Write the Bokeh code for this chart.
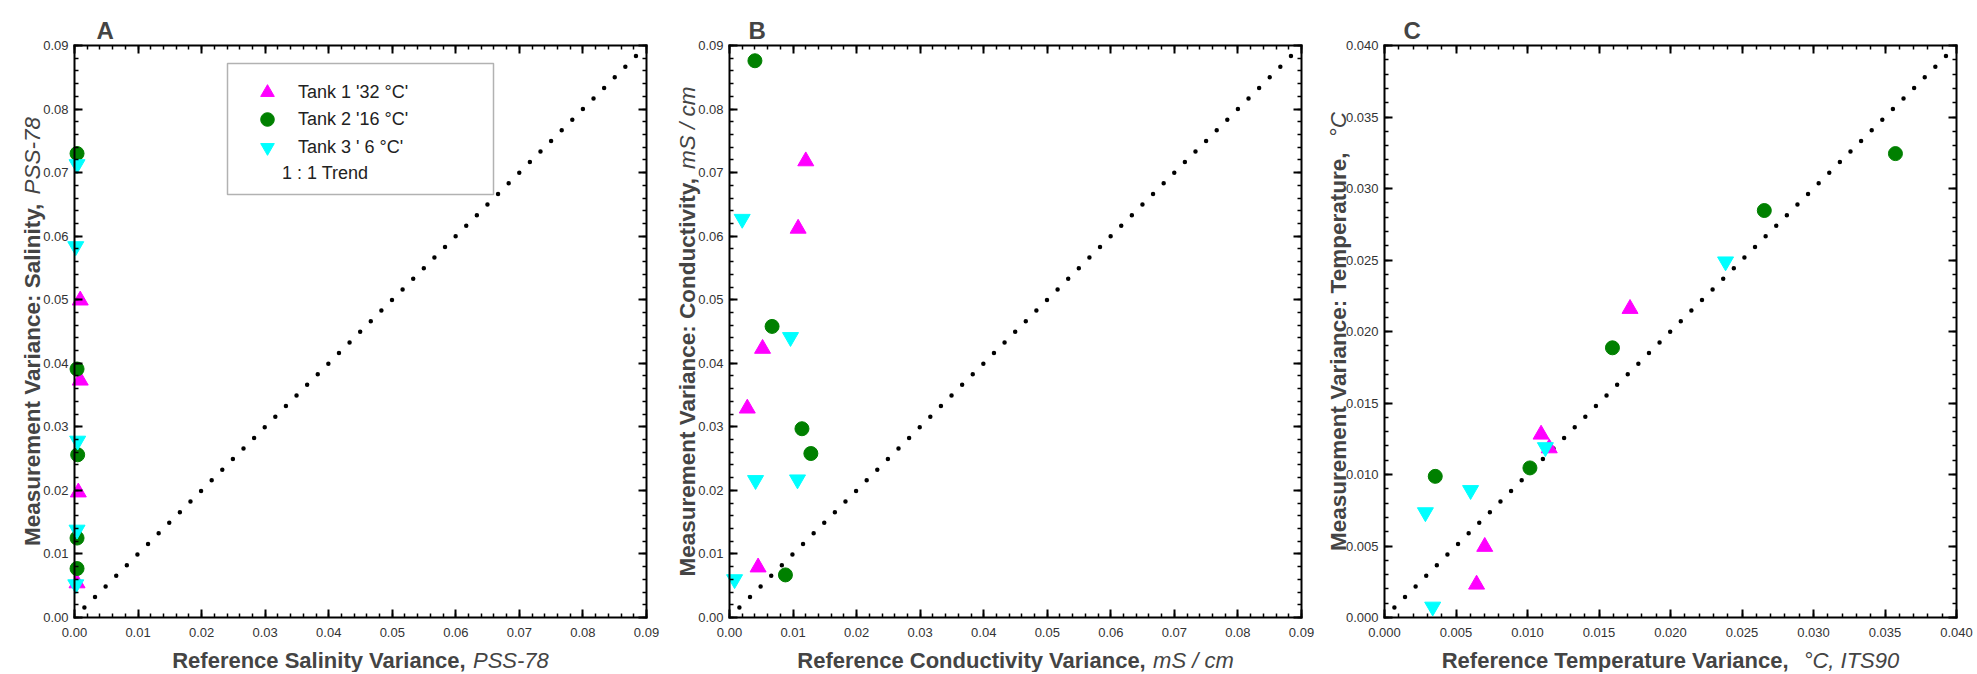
import math
from bokeh.plotting import figure
from bokeh.models import (Range1d, LinearAxis, SingleIntervalTicker, PrintfTickFormatter,
                          CustomJSTickFormatter, Label, Legend, LegendItem, BoxAnnotation)
from bokeh.layouts import row
from bokeh.embed import file_html
from bokeh.resources import INLINE

# ---------------- data ----------------
# Panel A: salinity
a_t1_x = [0.0009, 0.0009, 0.0006, 0.0004]
a_t1_y = [0.0499, 0.0373, 0.0197, 0.0054]
a_t2_x = [0.0004, 0.0004, 0.0005, 0.0004, 0.0004]
a_t2_y = [0.0730, 0.0391, 0.0256, 0.0125, 0.0077]
a_t3_x = [0.0004, 0.0002, 0.0005, 0.0004, 0.0002]
a_t3_y = [0.0713, 0.0584, 0.0278, 0.0138, 0.0052]
# Panel B: conductivity
b_t1_x = [0.0120, 0.0108, 0.0052, 0.0028, 0.0045]
b_t1_y = [0.0718, 0.0612, 0.0423, 0.0329, 0.0079]
b_t2_x = [0.0040, 0.0067, 0.0114, 0.0128, 0.0088]
b_t2_y = [0.0876, 0.0458, 0.0297, 0.0258, 0.0067]
b_t3_x = [0.0020, 0.0096, 0.0041, 0.0107, 0.0008]
b_t3_y = [0.0627, 0.0441, 0.0216, 0.0217, 0.0060]
# Panel C: temperature
c_t1_x = [0.01717, 0.01095, 0.01152, 0.00701, 0.00644]
c_t1_y = [0.02159, 0.01280, 0.01184, 0.00495, 0.00231]
c_t2_x = [0.03573, 0.02656, 0.01594, 0.01017, 0.00355]
c_t2_y = [0.03244, 0.02846, 0.01886, 0.01046, 0.00987]
c_t3_x = [0.02385, 0.01125, 0.00602, 0.00286, 0.00337]
c_t3_y = [0.02489, 0.01190, 0.00890, 0.00735, 0.00075]
# 1:1 trend lines
ab_trend = [0.0, 0.09]
c_trend = [0.0, 0.04]

legend_labels = ["Tank 1 '32 °C'", "Tank 2 '16 °C'", "Tank 3 ' 6 °C'", "1 : 1 Trend"]
panel_letters = ["A", "B", "C"]

# ---------------- styling ----------------
FONT = "Liberation Sans"
MAGENTA = "#FF00FF"
GREEN = "#008000"
CYAN = "#00FFFF"

BOLD_W = dict(zip("abcdefghijklmnopqrstuvwxyz",
                  [556, 611, 556, 611, 556, 333, 611, 611, 278, 278, 556, 278, 889, 611, 611, 611, 611,
                   389, 556, 333, 611, 556, 778, 556, 556, 500]))
BOLD_W.update(dict(zip("ABCDEFGHIJKLMNOPQRSTUVWXYZ",
                       [722, 722, 722, 722, 667, 611, 778, 722, 278, 556, 722, 611, 833, 722, 778, 667,
                        778, 722, 667, 611, 722, 667, 944, 667, 667, 611])))
BOLD_W.update({" ": 278, ",": 278, ":": 333, "-": 333, "/": 278, "°": 400})
ITAL_W = dict(zip("abcdefghijklmnopqrstuvwxyz",
                  [556, 556, 500, 556, 556, 278, 556, 556, 222, 222, 500, 222, 833, 556, 556, 556, 556,
                   333, 500, 278, 556, 500, 722, 500, 500, 500]))
ITAL_W.update(dict(zip("ABCDEFGHIJKLMNOPQRSTUVWXYZ",
                       [667, 667, 722, 722, 667, 611, 778, 722, 278, 500, 667, 556, 833, 722, 778, 667,
                        778, 722, 667, 611, 722, 667, 944, 667, 667, 611])))
ITAL_W.update({" ": 278, ",": 278, ":": 278, "-": 333, "/": 278, "°": 400})
for d in "0123456789":
    BOLD_W[d] = 556
    ITAL_W[d] = 556


def tw(s, table, size):
    return sum(table.get(ch, 556) for ch in s) / 1000.0 * size


FIG_H = 672
FW = 572          # data-box width in px
FH = 572          # data-box height in px
TOP = 45          # data-box top (px from canvas top)
BOT = FIG_H - TOP - FH   # px below data box
XLAB_SIZE = 22
YLAB_SIZE = 22.5


def style_axis(ax, show_labels):
    ax.axis_line_width = 2
    ax.axis_line_color = "black"
    ax.axis_line_cap = "square"
    ax.major_tick_in = 8
    ax.major_tick_out = 0
    ax.minor_tick_in = 4
    ax.minor_tick_out = 0
    ax.major_tick_line_width = 2
    ax.minor_tick_line_width = 1.5
    ax.major_tick_line_color = "black"
    ax.minor_tick_line_color = "black"
    ax.major_label_text_font = FONT
    ax.major_label_text_font_size = "13px"
    ax.major_label_text_color = "#333333"
    if not show_labels:
        ax.formatter = CustomJSTickFormatter(code="return ''")
        ax.major_label_standoff = 0
        ax.major_label_text_font_size = "1px"


def make_panel(width, left, vmax, interval, fmt, xs, ys, letter, letter_dx,
               ylab_bold, ylab_ital, xlab_bold, xlab_ital, ylab_x, gap_spaces, trend):
    sx = vmax / FW
    sy = vmax / FH
    xr = Range1d(-left * sx, vmax + (width - left - FW) * sx)
    yr = Range1d(-BOT * sy, vmax + TOP * sy)
    p = figure(width=width, height=FIG_H, x_range=xr, y_range=yr,
               output_backend="svg", toolbar_location=None, x_axis_type=None, y_axis_type=None,
               min_border=0)
    p.outline_line_color = None
    p.background_fill_color = "white"
    p.border_fill_color = "white"

    for place, loc, show in (("below", 0, True), ("left", 0, True),
                             ("above", vmax, False), ("right", vmax, False)):
        ax = LinearAxis(ticker=SingleIntervalTicker(interval=interval, num_minor_ticks=5),
                        formatter=PrintfTickFormatter(format=fmt), fixed_location=loc,
                        bounds=(0, vmax))
        style_axis(ax, show)
        if place == "left":
            ax.major_label_standoff = 6
        if place == "below":
            ax.major_label_standoff = 10
        p.add_layout(ax, place)

    # 1:1 trend line (dotted)
    p.line(trend, trend, line_color="black", line_width=4.5, line_dash="0 15",
           line_dash_offset=1, line_cap="round")
    r_leg = p.line(trend, trend, line_alpha=0)

    r1 = p.scatter(xs[0], ys[0], marker="triangle", size=16, fill_color=MAGENTA, line_color=MAGENTA)
    r2 = p.scatter(xs[1], ys[1], marker="circle", size=14, fill_color=GREEN, line_color=GREEN)
    r3 = p.scatter(xs[2], ys[2], marker="inverted_triangle", size=16, fill_color=CYAN, line_color=CYAN)

    # screen coordinates: origin at canvas bottom-left (frame == canvas)
    p.add_layout(Label(x=left + letter_dx, y=FIG_H - 30, x_units="screen", y_units="screen",
                       text=letter, text_font=FONT, text_font_style="bold", text_font_size="24px",
                       text_align="left", text_baseline="alphabetic"))

    # y axis label: bold + italic, centred on the data box, rotated
    gap = tw(" " * gap_spaces, BOLD_W, YLAB_SIZE)
    wb = tw(ylab_bold, BOLD_W, YLAB_SIZE)
    wi = tw(ylab_ital, ITAL_W, YLAB_SIZE)
    y0 = BOT + FH / 2 - (wb + gap + wi) / 2
    p.add_layout(Label(x=left + ylab_x, y=y0, x_units="screen", y_units="screen", text=ylab_bold,
                       angle=math.pi / 2, text_font=FONT, text_font_style="bold",
                       text_font_size=f"{YLAB_SIZE}px", text_align="left", text_baseline="alphabetic"))
    p.add_layout(Label(x=left + ylab_x, y=y0 + wb + gap, x_units="screen", y_units="screen",
                       text=ylab_ital, angle=math.pi / 2, text_font=FONT, text_font_style="italic",
                       text_font_size=f"{YLAB_SIZE}px", text_align="left", text_baseline="alphabetic"))
    # x axis label
    gap = tw(" " * gap_spaces, BOLD_W, XLAB_SIZE)
    wb = tw(xlab_bold, BOLD_W, XLAB_SIZE)
    wi = tw(xlab_ital, ITAL_W, XLAB_SIZE)
    x0 = left + FW / 2 - (wb + gap + wi) / 2
    ybase = FIG_H - 660
    p.add_layout(Label(x=x0, y=ybase, x_units="screen", y_units="screen", text=xlab_bold,
                       text_font=FONT, text_font_style="bold", text_font_size=f"{XLAB_SIZE}px",
                       text_align="left", text_baseline="alphabetic"))
    p.add_layout(Label(x=x0 + wb + gap, y=ybase, x_units="screen", y_units="screen", text=xlab_ital,
                       text_font=FONT, text_font_style="italic", text_font_size=f"{XLAB_SIZE}px",
                       text_align="left", text_baseline="alphabetic"))
    return p, (r1, r2, r3, r_leg)


pA, rA = make_panel(665, 74, 0.09, 0.01, "%.2f",
                    [a_t1_x, a_t2_x, a_t3_x], [a_t1_y, a_t2_y, a_t3_y], panel_letters[0], 22,
                    "Measurement Variance: Salinity,", "PSS-78",
                    "Reference Salinity Variance,", "PSS-78", -42, 1, ab_trend)
pB, rB = make_panel(658, 64, 0.09, 0.01, "%.2f",
                    [b_t1_x, b_t2_x, b_t3_x], [b_t1_y, b_t2_y, b_t3_y], panel_letters[1], 19,
                    "Measurement Variance: Conductivity,", "mS / cm",
                    "Reference Conductivity Variance,", "mS / cm", -42, 1, ab_trend)
pC, rC = make_panel(652, 61, 0.04, 0.005, "%.3f",
                    [c_t1_x, c_t2_x, c_t3_x], [c_t1_y, c_t2_y, c_t3_y], panel_letters[2], 19,
                    "Measurement Variance: Temperature,", "°C",
                    "Reference Temperature Variance,", "°C, ITS90", -46, 2, c_trend)

# legend for panel A: one row per Legend so the row pitch can be tighter than the glyph box
row_centres = [92, 119, 147, 173]          # px from canvas top
row_left = [250, 250, 250, 234]
for i in range(4):
    lg = Legend(items=[LegendItem(label=legend_labels[i], renderers=[rA[i]])],
                location=(row_left[i], FIG_H - row_centres[i] - 17), padding=0, margin=0, spacing=0,
                glyph_width=34, glyph_height=34, label_height=34, label_standoff=14,
                label_text_font=FONT, label_text_font_size="18px", label_text_color="#222222",
                border_line_color=None, background_fill_alpha=0)
    pA.add_layout(lg)

# legend frame (data units of panel A)
pA.add_layout(BoxAnnotation(left=(227 - 74) * 0.09 / FW, right=(493 - 74) * 0.09 / FW,
                            top=(617 - 63) * 0.09 / FH, bottom=(617 - 194) * 0.09 / FH,
                            fill_color=None, line_color="black", line_width=1.5))

layout = row(pA, pB, pC)
open("out.html", "w").write(file_html(layout, INLINE))
